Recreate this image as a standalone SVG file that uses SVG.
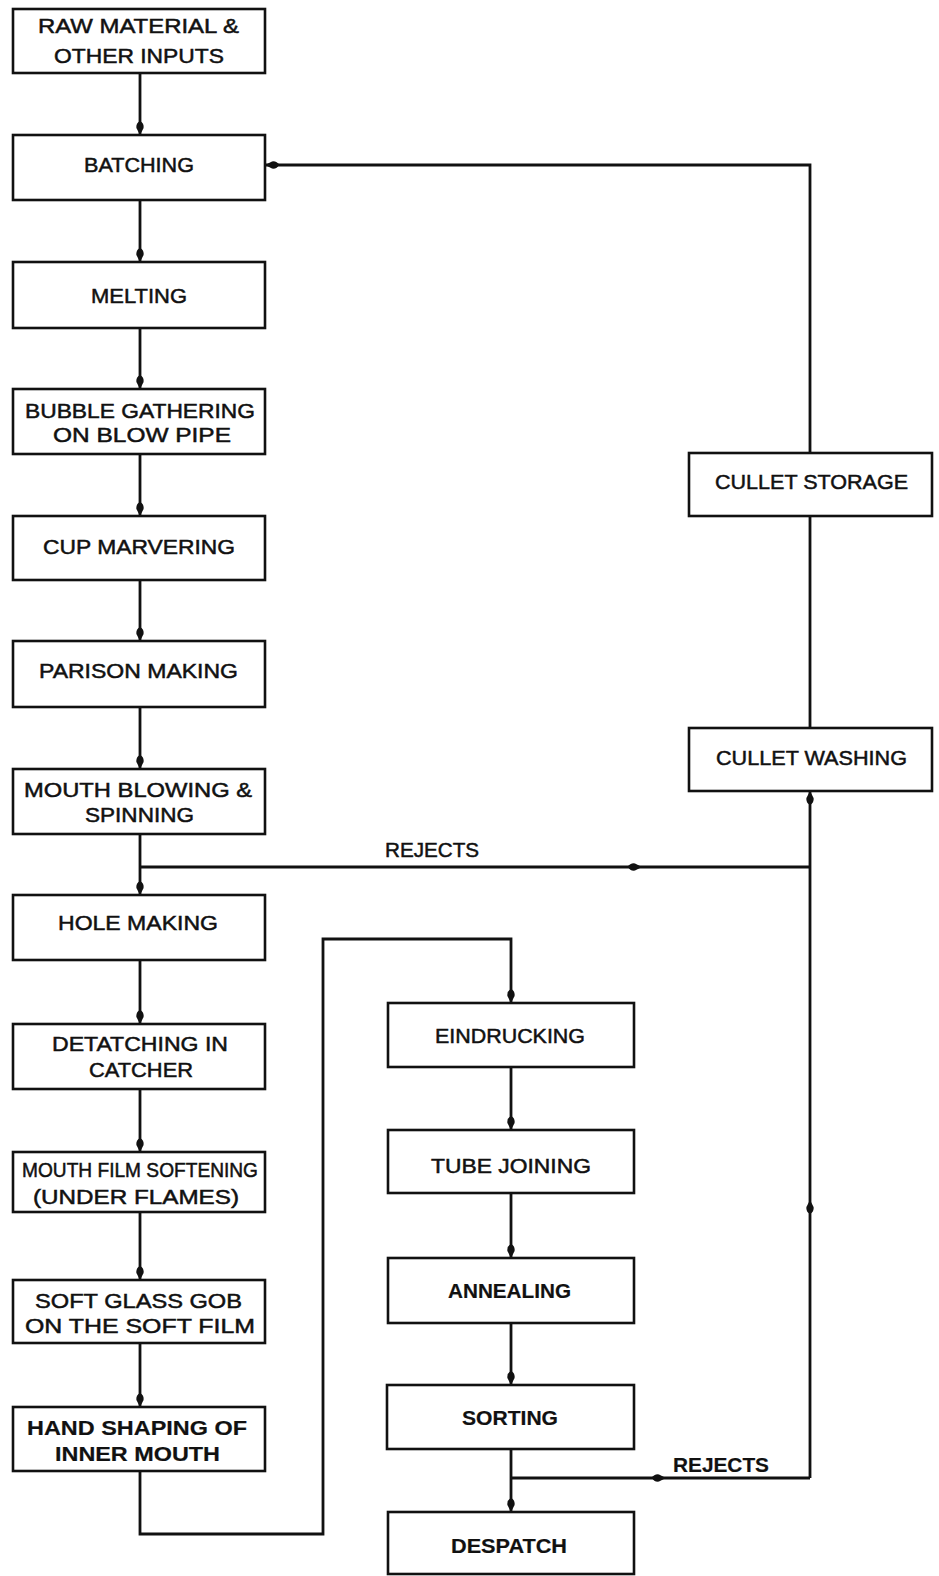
<svg xmlns="http://www.w3.org/2000/svg" width="939" height="1576" viewBox="0 0 939 1576">
<style>
.box{fill:#fff;stroke:#111;stroke-width:2.6}
.t{font-family:"Liberation Sans",Arial,sans-serif;font-size:21px;fill:#111;stroke:#111;stroke-width:0.5}
.b{font-weight:bold;stroke-width:0.2}
.c{fill:none;stroke:#111;stroke-width:2.8;stroke-linejoin:miter}
.a{marker-end:url(#ah)}
</style>
<defs>
<marker id="ah" markerUnits="userSpaceOnUse" markerWidth="16" markerHeight="10" viewBox="0 0 16 10" refX="15" refY="5" orient="auto">
<path d="M1,5 Q3,0.8 8,1.4 L15,5 L8,8.6 Q3,9.2 1,5 Z" fill="#111"/>
</marker>
</defs>
<rect width="939" height="1576" fill="#fff"/>
<g id="connectors">
<path class="c a" d="M140,73 V135"/>
<path class="c a" d="M140,200 V262"/>
<path class="c a" d="M140,328 V389"/>
<path class="c a" d="M140,454 V516"/>
<path class="c a" d="M140,580 V641"/>
<path class="c a" d="M140,707 V769"/>
<path class="c a" d="M140,834 V895"/>
<path class="c a" d="M140,960 V1024"/>
<path class="c a" d="M140,1089 V1152"/>
<path class="c a" d="M140,1212 V1280"/>
<path class="c a" d="M140,1343 V1407"/>
<path class="c a" d="M140,1471 V1534 H323 V939 H511 V1003"/>
<path class="c a" d="M511,1067 V1130"/>
<path class="c a" d="M511,1193 V1258"/>
<path class="c a" d="M511,1323 V1385"/>
<path class="c a" d="M511,1449 V1512"/>
<path class="c a" d="M810,453 V165 H265"/>
<path class="c" d="M810,516 V728"/>
<path class="c a" d="M140,867 H642"/>
<path class="c" d="M642,867 H810"/>
<path class="c a" d="M511,1478 H666"/>
<path class="c" d="M666,1478 H810"/>
<path class="c a" d="M810,1478 V1200"/>
<path class="c a" d="M810,1200 V791"/>
<text class="t" x="385" y="857" textLength="94" lengthAdjust="spacingAndGlyphs">REJECTS</text>
<text class="t b" x="673" y="1472" textLength="96" lengthAdjust="spacingAndGlyphs">REJECTS</text>
</g>
<g id="n1"><rect class="box" x="13" y="9" width="252" height="64"/>
<text class="t" x="38" y="33" textLength="201" lengthAdjust="spacingAndGlyphs">RAW MATERIAL &amp;</text>
<text class="t" x="54" y="63" textLength="170" lengthAdjust="spacingAndGlyphs">OTHER INPUTS</text></g>
<g id="n2"><rect class="box" x="13" y="135" width="252" height="65"/>
<text class="t" x="84" y="172" textLength="110" lengthAdjust="spacingAndGlyphs">BATCHING</text></g>
<g id="n3"><rect class="box" x="13" y="262" width="252" height="66"/>
<text class="t" x="91" y="303" textLength="96" lengthAdjust="spacingAndGlyphs">MELTING</text></g>
<g id="n4"><rect class="box" x="13" y="389" width="252" height="65"/>
<text class="t" x="25" y="418" textLength="230" lengthAdjust="spacingAndGlyphs">BUBBLE GATHERING</text>
<text class="t" x="53" y="442" textLength="178" lengthAdjust="spacingAndGlyphs">ON BLOW PIPE</text></g>
<g id="n5"><rect class="box" x="13" y="516" width="252" height="64"/>
<text class="t" x="43" y="554" textLength="192" lengthAdjust="spacingAndGlyphs">CUP MARVERING</text></g>
<g id="n6"><rect class="box" x="13" y="641" width="252" height="66"/>
<text class="t" x="39" y="678" textLength="199" lengthAdjust="spacingAndGlyphs">PARISON MAKING</text></g>
<g id="n7"><rect class="box" x="13" y="769" width="252" height="65"/>
<text class="t" x="24" y="797" textLength="228" lengthAdjust="spacingAndGlyphs">MOUTH BLOWING &amp;</text>
<text class="t" x="85" y="822" textLength="109" lengthAdjust="spacingAndGlyphs">SPINNING</text></g>
<g id="n8"><rect class="box" x="13" y="895" width="252" height="65"/>
<text class="t" x="58" y="930" textLength="160" lengthAdjust="spacingAndGlyphs">HOLE MAKING</text></g>
<g id="n9"><rect class="box" x="13" y="1024" width="252" height="65"/>
<text class="t" x="52" y="1051" textLength="176" lengthAdjust="spacingAndGlyphs">DETATCHING IN</text>
<text class="t" x="89" y="1077" textLength="104" lengthAdjust="spacingAndGlyphs">CATCHER</text></g>
<g id="n10"><rect class="box" x="13" y="1152" width="252" height="60"/>
<text class="t" x="22" y="1177" textLength="236" lengthAdjust="spacingAndGlyphs">MOUTH FILM SOFTENING</text>
<text class="t" x="33" y="1204" textLength="206" lengthAdjust="spacingAndGlyphs">(UNDER FLAMES)</text></g>
<g id="n11"><rect class="box" x="13" y="1280" width="252" height="63"/>
<text class="t" x="35" y="1308" textLength="207" lengthAdjust="spacingAndGlyphs">SOFT GLASS GOB</text>
<text class="t" x="25" y="1333" textLength="230" lengthAdjust="spacingAndGlyphs">ON THE SOFT FILM</text></g>
<g id="n12"><rect class="box" x="13" y="1407" width="252" height="64"/>
<text class="t b" x="27" y="1435" textLength="220" lengthAdjust="spacingAndGlyphs">HAND SHAPING OF</text>
<text class="t b" x="55" y="1461" textLength="165" lengthAdjust="spacingAndGlyphs">INNER MOUTH</text></g>
<g id="n13"><rect class="box" x="689" y="453" width="243" height="63"/>
<text class="t" x="715" y="489" textLength="193" lengthAdjust="spacingAndGlyphs">CULLET STORAGE</text></g>
<g id="n14"><rect class="box" x="689" y="728" width="243" height="63"/>
<text class="t" x="716" y="765" textLength="191" lengthAdjust="spacingAndGlyphs">CULLET WASHING</text></g>
<g id="n15"><rect class="box" x="388" y="1003" width="246" height="64"/>
<text class="t" x="435" y="1043" textLength="150" lengthAdjust="spacingAndGlyphs">EINDRUCKING</text></g>
<g id="n16"><rect class="box" x="388" y="1130" width="246" height="63"/>
<text class="t" x="431" y="1173" textLength="160" lengthAdjust="spacingAndGlyphs">TUBE JOINING</text></g>
<g id="n17"><rect class="box" x="388" y="1258" width="246" height="65"/>
<text class="t b" x="448" y="1298" textLength="123" lengthAdjust="spacingAndGlyphs">ANNEALING</text></g>
<g id="n18"><rect class="box" x="387" y="1385" width="247" height="64"/>
<text class="t b" x="462" y="1425" textLength="96" lengthAdjust="spacingAndGlyphs">SORTING</text></g>
<g id="n19"><rect class="box" x="388" y="1512" width="246" height="62"/>
<text class="t b" x="451" y="1553" textLength="116" lengthAdjust="spacingAndGlyphs">DESPATCH</text></g>
</svg>
